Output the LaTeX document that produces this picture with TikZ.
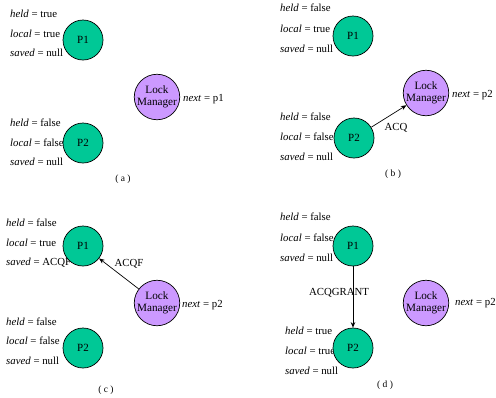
\documentclass[tikz,border=0pt]{standalone}
\usepackage{fontspec}
\setmainfont{Liberation Serif}
\usetikzlibrary{arrows.meta}
\definecolor{procgreen}{RGB}{0,200,150}
\definecolor{lmpurple}{RGB}{204,153,255}
\tikzset{
  proc/.style={circle,draw=black,line width=0.7pt,fill=procgreen,minimum size=40bp,inner sep=0pt,font=\fontsize{11bp}{12bp}\selectfont},
  lockmgr/.style={circle,draw=black,line width=0.7pt,fill=lmpurple,minimum size=38bp,inner sep=0pt,align=center,font=\fontsize{11.2bp}{12bp}\selectfont},
  var/.style={anchor=west,inner sep=0pt,font=\fontsize{10.8bp}{12bp}\selectfont},
  subcap/.style={inner sep=0pt,font=\fontsize{9.5bp}{11bp}\selectfont},
  msg/.style={inner sep=0pt,font=\fontsize{10.8bp}{12bp}\selectfont},
  link/.style={draw=black,line width=0.7pt,-{Stealth[length=5.5bp,width=4.5bp]}}
}
\begin{document}
\begin{tikzpicture}[x=1bp,y=-1bp]
\useasboundingbox (0,0) rectangle (496,397);

% ---------- (a) ----------
\node[var] (a1h) at (10,14) {\textit{held} = true};
\node[var] (a1l) at (10,34) {\textit{local} = true};
\node[var] (a1s) at (10,53) {\textit{saved} = null};
\node[proc] (aP1) at (83,40) {P1};
\node[var] (a2h) at (10,123) {\textit{held} = false};
\node[var] (a2l) at (10,143) {\textit{local} = false};
\node[var] (a2s) at (10,162) {\textit{saved} = null};
\node[proc] (aP2) at (83,143) {P2};
\node[lockmgr] (aLM) at (157,97) {Lock\\Manager};
\node[var] (anext) at (183,99) {\textit{next} = p1};
\node[subcap] (acap) at (123,179) {( a )};

% ---------- (b) ----------
\node[var] (b1h) at (280,8) {\textit{held} = false};
\node[var] (b1l) at (280,29) {\textit{local} = true};
\node[var] (b1s) at (280,49) {\textit{saved} = null};
\node[proc] (bP1) at (353,36) {P1};
\node[var] (b2h) at (280,117) {\textit{held} = false};
\node[var] (b2l) at (280,137) {\textit{local} = false};
\node[var] (b2s) at (280,157) {\textit{saved} = null};
\node[proc] (bP2) at (354,138) {P2};
\node[lockmgr] (bLM) at (426,93) {Lock\\Manager};
\node[var] (bnext) at (452,95) {\textit{next} = p2};
\node[subcap] (bcap) at (393,174) {( b )};
\draw[link] (bP2) -- (bLM);
\node[msg] (bmsg) at (396,128) {ACQ};

% ---------- (c) ----------
\node[var] (c1h) at (6,223) {\textit{held} = false};
\node[var] (c1l) at (6,243) {\textit{local} = true};
\node[var] (c1s) at (6,263) {\textit{saved} = ACQF};
\node[proc] (cP1) at (83,246) {P1};
\node[var] (c2h) at (6,322) {\textit{held} = false};
\node[var] (c2l) at (6,341) {\textit{local} = false};
\node[var] (c2s) at (6,361) {\textit{saved} = null};
\node[proc] (cP2) at (83,348) {P2};
\node[lockmgr] (cLM) at (157,303) {Lock\\Manager};
\node[var] (cnext) at (182,305) {\textit{next} = p2};
\node[subcap] (ccap) at (106,390) {( c )};
\draw[link] (cLM) -- (cP1);
\node[msg] (cmsg) at (129,264) {ACQF};

% ---------- (d) ----------
\node[var] (d1h) at (280,217) {\textit{held} = false};
\node[var] (d1l) at (280,238) {\textit{local} = false};
\node[var] (d1s) at (280,258) {\textit{saved} = null};
\node[proc] (dP1) at (353,246) {P1};
\node[var] (d2h) at (285,331) {\textit{held} = true};
\node[var] (d2l) at (285,351) {\textit{local} = true};
\node[var] (d2s) at (285,371) {\textit{saved} = null};
\node[proc] (dP2) at (353,348) {P2};
\node[lockmgr] (dLM) at (426,303) {Lock\\Manager};
\node[var] (dnext) at (455,303) {\textit{next} = p2};
\node[subcap] (dcap) at (385,385) {( d )};
\draw[link] (dP1) -- (dP2);
\node[msg] (dmsg) at (339,293) {ACQGRANT};
\end{tikzpicture}
\end{document}
